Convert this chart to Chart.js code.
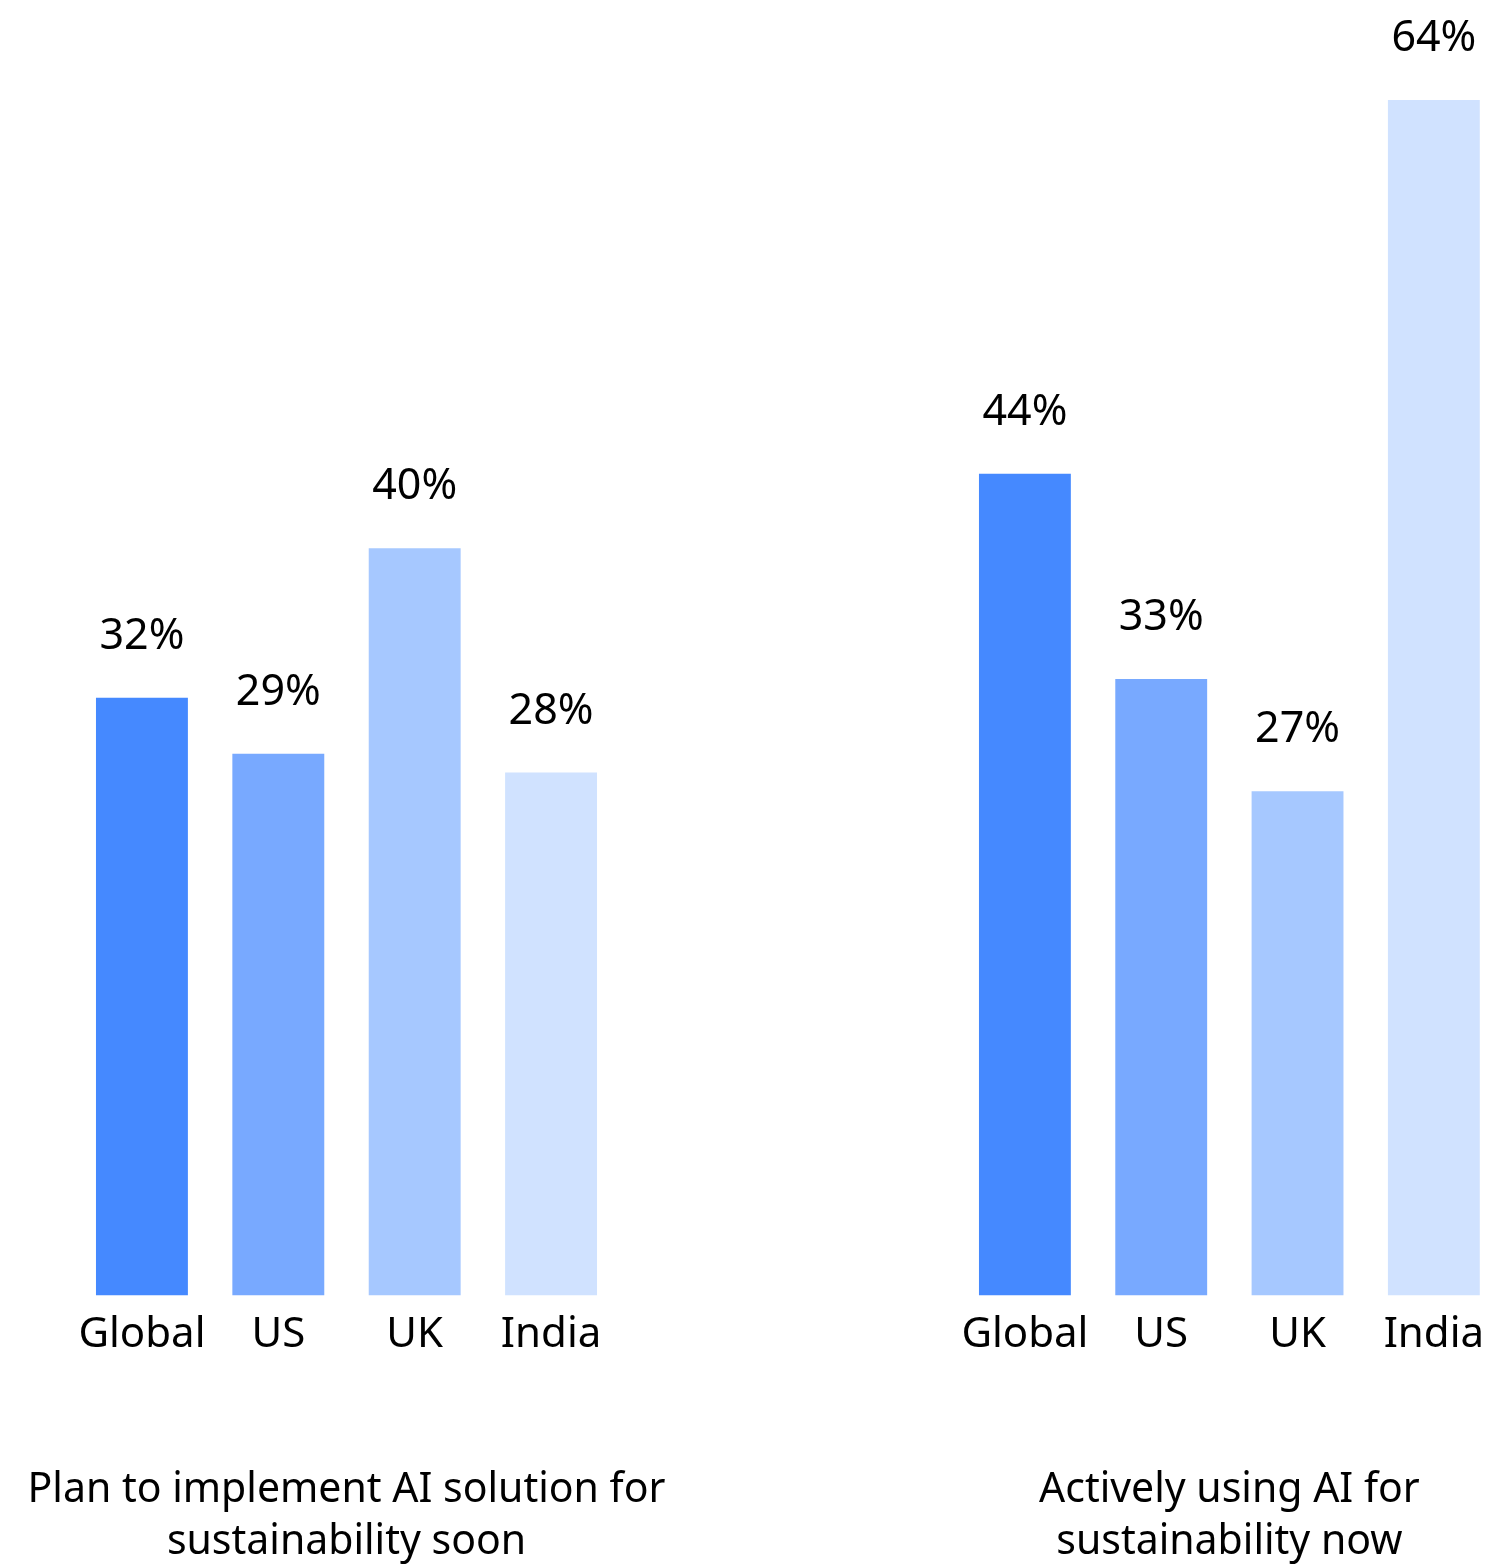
<!DOCTYPE html>
<html>
<head>
<meta charset="utf-8">
<script src="https://cdn.jsdelivr.net/npm/chart.js@4.4.1/dist/chart.umd.min.js"></script>
<style>
    html, body { margin: 0; padding: 0; background: #fff; overflow: hidden; }
    body { width: 1496px; height: 1565px; position: relative; }
    .box { position: absolute; top: 0; width: 700px; height: 1565px; }
    #leftBox { left: 0; }
    #rightBox { left: 900px; }
</style>
</head>
<body>
<div class="box" id="leftBox"><canvas id="planChart"></canvas></div>
<div class="box" id="rightBox"><canvas id="nowChart"></canvas></div>
<script>
'use strict';

// 데이터
const countries = ['Global', 'US', 'UK', 'India'];
const planSoon = [32, 29, 40, 28];
const usingNow = [44, 33, 27, 64];
const planTitle = ['Plan to implement AI solution for', 'sustainability soon'];
const nowTitle = ['Actively using AI for', 'sustainability now'];

const barColors = ['#4589ff', '#78a9ff', '#a6c8ff', '#d0e2ff'];
const FONT = '"Noto Sans", "Open Sans", sans-serif';

// 막대 위에 % 값 표시
const valueLabels = {
    id: 'valueLabels',
    afterDatasetsDraw(chart) {
        const ctx = chart.ctx;
        const meta = chart.getDatasetMeta(0);
        const values = chart.data.datasets[0].data;
        ctx.save();
        ctx.font = '43px ' + FONT;
        ctx.fillStyle = '#000';
        ctx.textAlign = 'center';
        ctx.textBaseline = 'alphabetic';
        meta.data.forEach(function (bar, i) {
            ctx.fillText(values[i] + '%', bar.x, bar.y - 49);
        });
        ctx.restore();
    }
};

// 그룹 제목 (축 제목은 차트 폭으로 잘려서 직접 그림)
const groupTitle = {
    id: 'groupTitle',
    afterDraw(chart, args, opts) {
        const ctx = chart.ctx;
        const area = chart.chartArea;
        const cx = (area.left + area.right) / 2;
        ctx.save();
        ctx.font = '41px ' + FONT;
        ctx.fillStyle = '#000';
        ctx.textAlign = 'center';
        ctx.textBaseline = 'alphabetic';
        opts.lines.forEach(function (line, i) {
            ctx.fillText(line, cx, area.bottom + 206 + i * 52);
        });
        ctx.restore();
    }
};

// 차트 그리기
function drawGroup(canvasId, values, title, padLeft, padRight) {
    const config = {
        type: 'bar',
        data: {
            labels: countries,
            datasets: [{
                data: values,
                backgroundColor: barColors,
                barPercentage: 0.674,
                categoryPercentage: 1
            }]
        },
        options: {
            responsive: true,
            maintainAspectRatio: false,
            animation: false,
            layout: {
                padding: { top: 100, left: padLeft, right: padRight, bottom: 191 }
            },
            plugins: {
                legend: { display: false },
                tooltip: { enabled: false },
                groupTitle: { lines: title }
            },
            scales: {
                x: {
                    grid: { display: false, drawTicks: false },
                    border: { display: false },
                    ticks: {
                        color: '#000',
                        padding: 14,
                        font: { family: FONT, size: 42 }
                    }
                },
                y: {
                    display: false,
                    min: 0,
                    max: 64
                }
            }
        },
        plugins: [valueLabels, groupTitle]
    };

    return new Chart(document.getElementById(canvasId), config);
}

drawGroup('planChart', planSoon, planTitle, 73.75, 80.75);
drawGroup('nowChart', usingNow, nowTitle, 56.75, 98);
</script>
</body>
</html>
